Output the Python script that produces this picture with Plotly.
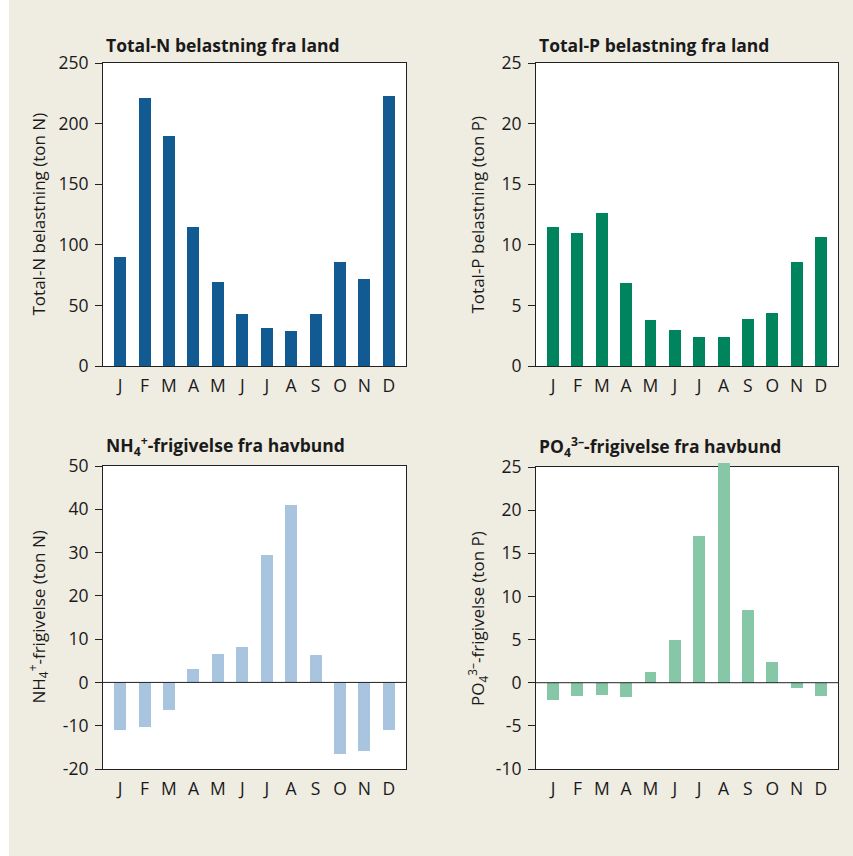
import plotly.graph_objects as go

months = ["J", "F", "M", "A", "M", "J", "J", "A", "S", "O", "N", "D"]
total_n = [90, 221, 190, 115, 69, 43, 31, 29, 43, 86, 72, 223]
total_p = [11.5, 11.0, 12.6, 6.85, 3.8, 3.0, 2.4, 2.4, 3.9, 4.4, 8.6, 10.65]
nh4 = [-11.0, -10.3, -6.3, 3.1, 6.5, 8.2, 29.4, 41.0, 6.3, -16.5, -15.8, -11.0]
po4 = [-2.0, -1.55, -1.45, -1.65, 1.2, 4.9, 17.05, 25.5, 8.4, 2.45, -0.6, -1.55]

ticks_n = [0, 50, 100, 150, 200, 250]
ticks_p = [0, 5, 10, 15, 20, 25]
ticks_nh4 = [-20, -10, 0, 10, 20, 30, 40, 50]
ticks_po4 = [-10, -5, 0, 5, 10, 15, 20, 25]

titles = [
    "Total-N belastning fra land",
    "Total-P belastning fra land",
    "NH<sub>4</sub><sup>+</sup>-frigivelse fra havbund",
    "PO<sub>4</sub><sup>3–</sup>-frigivelse fra havbund",
]
ytitles = [
    "Total-N belastning (ton N)",
    "Total-P belastning (ton P)",
    "NH<sub>4</sub><sup>+</sup>-frigivelse (ton N)",
    "PO<sub>4</sub><sup>3–</sup>-frigivelse (ton P)",
]
series = [total_n, total_p, nh4, po4]
tickvals = [ticks_n, ticks_p, ticks_nh4, ticks_po4]
colors = ["#115b92", "#00845e", "#a9c4df", "#85c7a7"]

W, H = 853, 856
# plot areas in pixels (x0, x1, y0, y1)
boxes = [
    (103, 406, 63, 366),
    (536, 838, 63, 366),
    (103, 406, 466, 769),
    (536, 838, 467, 769),
]
ytitle_x = [38, 477, 38, 477]
EXTRA = 10  # px of headroom for bars overshooting the top of the frame

FONT = "Open Sans"
TXT = "#1a1a1a"
LINE = "#222"
fig = go.Figure()
for i in range(4):
    ax = str(i + 1) if i else ""
    bx = str(i + 5)  # hidden axes used to draw the bars unclipped at the top
    x0, x1, y0, y1 = boxes[i]
    tv = tickvals[i]
    yr = [tv[0], tv[-1]]
    upp = (yr[1] - yr[0]) / (y1 - y0)  # units per pixel
    # placeholder trace so the framed subplot is drawn
    fig.add_trace(go.Scatter(
        x=[None], y=[None], mode="markers", xaxis="x" + ax, yaxis="y" + ax,
        showlegend=False, hoverinfo="skip",
    ))
    fig.add_trace(go.Bar(
        x=list(range(12)), y=series[i], width=0.49,
        marker=dict(color=colors[i], line=dict(width=0)),
        xaxis="x" + bx, yaxis="y" + bx, showlegend=False,
    ))
    xdom = [x0 / W, x1 / W]
    fig.update_layout(**{
        "xaxis" + ax: dict(
            domain=xdom, anchor="y" + ax,
            range=[-0.7, 11.7], tickmode="array", tickvals=list(range(12)),
            ticktext=months, showgrid=False, zeroline=False,
            showline=True, linecolor=LINE, linewidth=1, mirror=True,
            ticks="", ticklabelstandoff=4,
            tickfont=dict(size=17.5, color=TXT, family=FONT),
            automargin=False, fixedrange=True,
        ),
        "yaxis" + ax: dict(
            domain=[1 - y1 / H, 1 - y0 / H], anchor="x" + ax,
            range=yr, tickmode="array", tickvals=tv,
            ticktext=[str(v) for v in tv], showgrid=False, zeroline=False,
            showline=True, linecolor=LINE, linewidth=1, mirror=True,
            ticks="outside", ticklen=7, tickcolor=LINE, tickwidth=1,
            ticklabelstandoff=3,
            tickfont=dict(size=17.5, color=TXT, family=FONT),
            automargin=False, fixedrange=True,
        ),
        "xaxis" + bx: dict(
            domain=xdom, anchor="y" + bx, range=[-0.7, 11.7],
            visible=False, fixedrange=True,
        ),
        "yaxis" + bx: dict(
            domain=[1 - y1 / H, 1 - (y0 - EXTRA) / H], anchor="x" + bx,
            range=[yr[0], yr[1] + EXTRA * upp], visible=False, fixedrange=True,
        ),
    })
    # white plot background for the visible frame only
    fig.add_shape(type="rect", xref="x" + ax + " domain", yref="y" + ax + " domain",
                  x0=0, x1=1, y0=0, y1=1, fillcolor="white",
                  line=dict(width=0), layer="below")
    if yr[0] < 0:
        # zero reference line drawn above the bars
        fig.add_shape(type="line", xref="x" + bx + " domain", yref="y" + bx,
                      x0=0, x1=1, y0=0, y1=0, line=dict(color=LINE, width=1),
                      layer="above")
    fig.add_annotation(
        text="<b>" + titles[i] + "</b>", xref="paper", yref="paper",
        x=(x0 + 1) / W, y=1 - (y0 - 4) / H, xanchor="left", yanchor="bottom",
        showarrow=False, font=dict(size=17.5, color=TXT, family=FONT),
    )
    fig.add_annotation(
        text=ytitles[i], xref="paper", yref="paper", textangle=-90,
        x=ytitle_x[i] / W, y=1 - ((y0 + y1) / 2) / H,
        xanchor="center", yanchor="middle", showarrow=False,
        font=dict(size=17, color=TXT, family=FONT),
    )

fig.add_shape(type="rect", xref="paper", yref="paper", x0=0, x1=9 / W, y0=0, y1=1,
              fillcolor="white", line=dict(width=0), layer="below")

fig.update_layout(
    width=W, height=H, margin=dict(l=0, r=0, t=0, b=0),
    paper_bgcolor="#efece2", plot_bgcolor="rgba(0,0,0,0)",
    template="none", bargap=0,
    font=dict(family=FONT, color=TXT),
)
fig.write_html("out.html", config={"displayModeBar": False},
               post_script="document.body.style.margin='0';document.body.style.overflow='hidden';")
